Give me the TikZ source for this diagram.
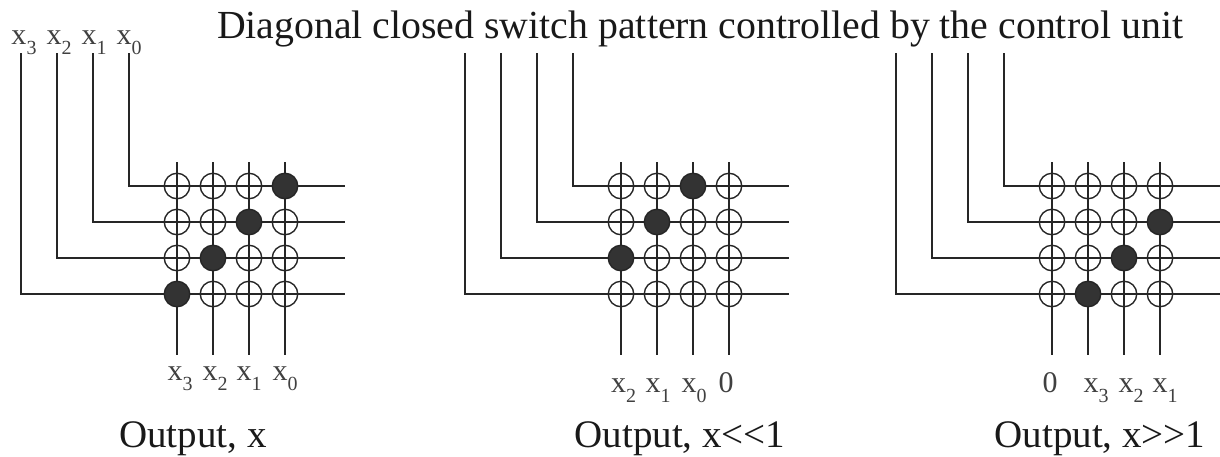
\documentclass[tikz,border=0pt]{standalone}
\usepackage{fontspec}
\setmainfont{Liberation Serif}
\usepackage{tikz}
\usetikzlibrary{positioning,calc}

\newcommand{\bitname}[1]{x\raisebox{-10pt}{\fontsize{20}{22}\selectfont #1}}

\begin{document}
\begin{tikzpicture}[
	x=1pt,
	y=-1pt,
	wire/.style={
		line width=1.5pt,
		color=black!85
	},
	crossing/.style={
		draw=black!85,
		circle,
		line width=1.4pt,
		minimum size=25.5pt,
		inner sep=0pt
	},
	closed/.style={
		crossing,
		fill=black!80
	},
	bitlabel/.style={
		anchor=base,
		inner sep=0pt,
		text=black!75,
		font=\fontsize{30}{32}\selectfont
	},
	caption/.style={
		anchor=base,
		inner sep=0pt,
		text=black!90,
		font=\fontsize{39}{45}\selectfont
	},
	headline/.style={
		caption,
		font=\fontsize{39.8}{46}\selectfont
	}
	]
	
	\useasboundingbox (0,0) rectangle (1220,456);
	
	%=====================================================================
	% Title and captions
	%=====================================================================
	
	\node[headline] (title) at (700,38)
	{Diagonal closed switch pattern controlled by the control unit};
	
	\node[caption] (outa) at (193,447) {Output, x};
	\node[caption] (outb) at (680,447) {Output, x<{}<1};
	\node[caption] (outc) at (1100,447) {Output, x>{}>1};
	
	%=====================================================================
	% Switch grids, one per shift setting
	%=====================================================================
	
	\foreach \pan/\off/\shft in {a/0/0,b/444/-1,c/875/1} {
		
		\foreach \row in {0,1,2,3} {
			\coordinate (\pan in\row) at ({129+\off-36*\row},53);
			\coordinate (\pan out\row) at ({345+\off},{186+36*\row});
			\draw[wire] (\pan in\row) |- (\pan out\row);
		}
		
		\foreach \col in {1,2,3,4} {
			\coordinate (\pan top\col) at ({141+\off+36*\col},162);
			\coordinate (\pan bot\col) at ({141+\off+36*\col},355);
			\draw[wire] (\pan top\col) -- (\pan bot\col);
		}
		
		\foreach \row in {0,1,2,3} {
			\foreach \col in {1,2,3,4} {
				\pgfmathtruncatemacro{\hit}{\col==4-\row+\shft ? 1 : 0}
				\ifnum\hit=1
				\node[closed] (\pan s\row\col) at ({141+\off+36*\col},{186+36*\row}) {};
				\else
				\node[crossing] (\pan s\row\col) at ({141+\off+36*\col},{186+36*\row}) {};
				\fi
			}
		}
	}
	
	%=====================================================================
	% Bit labels
	%=====================================================================
	
	\foreach \bit/\xpos in {3/24,2/59,1/94,0/129} {
		\node[bitlabel] (in\bit) at (\xpos,44) {\bitname{\bit}};
	}
	
	\foreach \bit/\xpos in {3/180,2/215,1/249,0/285} {
		\node[bitlabel] (a\bit) at (\xpos,380) {\bitname{\bit}};
	}
	
	\foreach \bit/\xpos in {2/623.5,1/658,0/694} {
		\node[bitlabel] (b\bit) at (\xpos,392) {\bitname{\bit}};
	}
	\node[bitlabel] (bzero) at (726,392) {0};
	
	\node[bitlabel] (czero) at (1050,392) {0};
	\foreach \bit/\xpos in {3/1096,2/1131,1/1165} {
		\node[bitlabel] (c\bit) at (\xpos,392) {\bitname{\bit}};
	}
	
\end{tikzpicture}
\end{document}
